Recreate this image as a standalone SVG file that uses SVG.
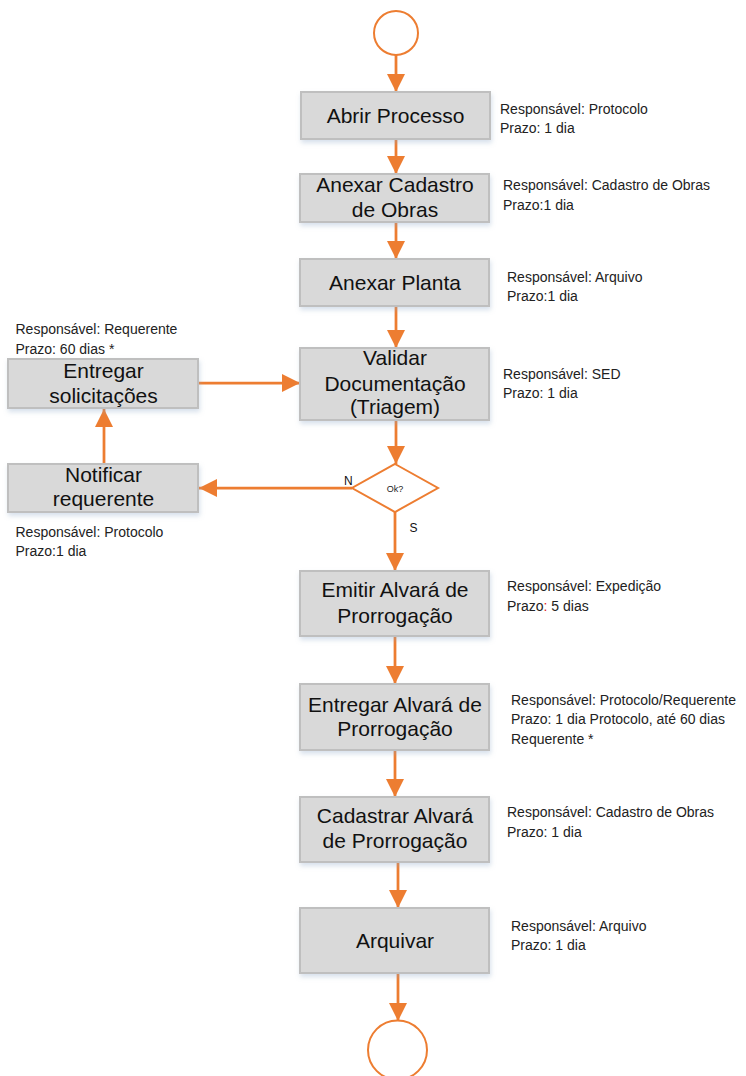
<svg xmlns="http://www.w3.org/2000/svg" width="746" height="1076" viewBox="0 0 746 1076">
<defs>
<style>
.box{fill:#D9D9D9;stroke:#BFBFBF;stroke-width:2;filter:url(#sh)}
.bt{font-family:"Liberation Sans",Arial,sans-serif;font-size:21px;fill:#111;text-anchor:middle}
.lb{font-family:"Liberation Sans",Arial,sans-serif;font-size:14px;fill:#222}
.yn{font-family:"Liberation Sans",Arial,sans-serif;font-size:12px;fill:#111}
.ln{fill:none;stroke:#ED7D31;stroke-width:2.75}
.term{fill:#fff;stroke:#ED7D31;stroke-width:2}
</style>
<filter id="sh" x="-10%" y="-20%" width="130%" height="160%">
<feDropShadow dx="1" dy="3" stdDeviation="2.5" flood-color="#8FA8C8" flood-opacity="0.35"/>
</filter>
<marker id="ah" viewBox="0 0 18 18" refX="18" refY="9" markerWidth="18" markerHeight="18" markerUnits="userSpaceOnUse" orient="auto">
<path d="M0,0 L18,9 L0,18 Z" fill="#ED7D31"/>
</marker>
</defs>
<rect width="746" height="1076" fill="#fff"/>
<g id="connectors">
<path class="ln" d="M396,55 V92" marker-end="url(#ah)"/>
<path class="ln" d="M396,139 V174" marker-end="url(#ah)"/>
<path class="ln" d="M396,222 V259" marker-end="url(#ah)"/>
<path class="ln" d="M396,306 V348" marker-end="url(#ah)"/>
<path class="ln" d="M396,420 V464" marker-end="url(#ah)"/>
<path class="ln" d="M352,488 H199" marker-end="url(#ah)"/>
<path class="ln" d="M104,464 V409" marker-end="url(#ah)"/>
<path class="ln" d="M198,383 H300" marker-end="url(#ah)"/>
<path class="ln" d="M395,512 V571" marker-end="url(#ah)"/>
<path class="ln" d="M395,636 V684" marker-end="url(#ah)"/>
<path class="ln" d="M395,750 V797" marker-end="url(#ah)"/>
<path class="ln" d="M398,862 V908" marker-end="url(#ah)"/>
<path class="ln" d="M398,973 V1021" marker-end="url(#ah)"/>
</g>
<g id="start"><circle class="term" cx="396" cy="33" r="22"/></g>
<g id="abrir">
<rect class="box" x="301" y="92" width="189" height="47"/>
<text class="bt" x="395.5" y="123">Abrir Processo</text>
<text class="lb" x="500" y="114">Responsável: Protocolo</text>
<text class="lb" x="500" y="133">Prazo: 1 dia</text>
</g>
<g id="anexar-cadastro">
<rect class="box" x="300" y="174" width="189" height="48"/>
<text class="bt" x="395" y="192">Anexar Cadastro</text>
<text class="bt" x="395" y="216.5">de Obras</text>
<text class="lb" x="503" y="190">Responsável: Cadastro de Obras</text>
<text class="lb" x="503" y="209.5">Prazo:1 dia</text>
</g>
<g id="anexar-planta">
<rect class="box" x="300" y="259" width="189" height="47"/>
<text class="bt" x="395" y="290">Anexar Planta</text>
<text class="lb" x="507" y="282">Responsável: Arquivo</text>
<text class="lb" x="507" y="301">Prazo:1 dia</text>
</g>
<g id="validar">
<rect class="box" x="300" y="348" width="189" height="72"/>
<text class="bt" x="395" y="365">Validar</text>
<text class="bt" x="395" y="390.5">Documentação</text>
<text class="bt" x="395" y="414">(Triagem)</text>
<text class="lb" x="503" y="378.5">Responsável: SED</text>
<text class="lb" x="503" y="398">Prazo: 1 dia</text>
</g>
<g id="entregar-solicitacoes">
<rect class="box" x="8" y="359" width="190" height="49"/>
<text class="bt" x="103.5" y="378">Entregar</text>
<text class="bt" x="103.5" y="403">solicitações</text>
<text class="lb" x="15.5" y="334">Responsável: Requerente</text>
<text class="lb" x="15.5" y="353.5">Prazo: 60 dias *</text>
</g>
<g id="decisao">
<path d="M395,464 L438,488 L395,512 L352,488 Z" fill="#fff" stroke="#ED7D31" stroke-width="2"/>
<text x="395" y="491.5" font-family="Liberation Sans,Arial,sans-serif" font-size="9" fill="#222" text-anchor="middle">Ok?</text>
<text class="yn" x="344" y="485">N</text>
<text class="yn" x="409.5" y="531.5">S</text>
</g>
<g id="notificar">
<rect class="box" x="8" y="464" width="190" height="48"/>
<text class="bt" x="103.5" y="481.5">Notificar</text>
<text class="bt" x="103.5" y="506">requerente</text>
<text class="lb" x="15.5" y="537">Responsável: Protocolo</text>
<text class="lb" x="15.5" y="556">Prazo:1 dia</text>
</g>
<g id="emitir">
<rect class="box" x="300" y="571" width="189" height="65"/>
<text class="bt" x="395" y="597">Emitir Alvará de</text>
<text class="bt" x="395" y="623">Prorrogação</text>
<text class="lb" x="507" y="591">Responsável: Expedição</text>
<text class="lb" x="507" y="611">Prazo<tspan fill="#E02020">:</tspan> 5 dias</text>
</g>
<g id="entregar-alvara">
<rect class="box" x="300" y="684" width="189" height="66"/>
<text class="bt" x="395" y="711.5">Entregar Alvará de</text>
<text class="bt" x="395" y="736">Prorrogação</text>
<text class="lb" x="511" y="705">Responsável: Protocolo/Requerente</text>
<text class="lb" x="511" y="724">Prazo: 1 dia Protocolo, até 60 dias</text>
<text class="lb" x="511" y="743.5">Requerente *</text>
</g>
<g id="cadastrar">
<rect class="box" x="300" y="797" width="189" height="65"/>
<text class="bt" x="395" y="823">Cadastrar Alvará</text>
<text class="bt" x="395" y="848">de Prorrogação</text>
<text class="lb" x="507" y="817">Responsável: Cadastro de Obras</text>
<text class="lb" x="507" y="836.5">Prazo: 1 dia</text>
</g>
<g id="arquivar">
<rect class="box" x="300" y="908" width="189" height="65"/>
<text class="bt" x="395" y="948">Arquivar</text>
<text class="lb" x="511" y="931">Responsável: Arquivo</text>
<text class="lb" x="511" y="950">Prazo: 1 dia</text>
</g>
<g id="end"><circle class="term" cx="397.5" cy="1050" r="29.5"/></g>
</svg>
